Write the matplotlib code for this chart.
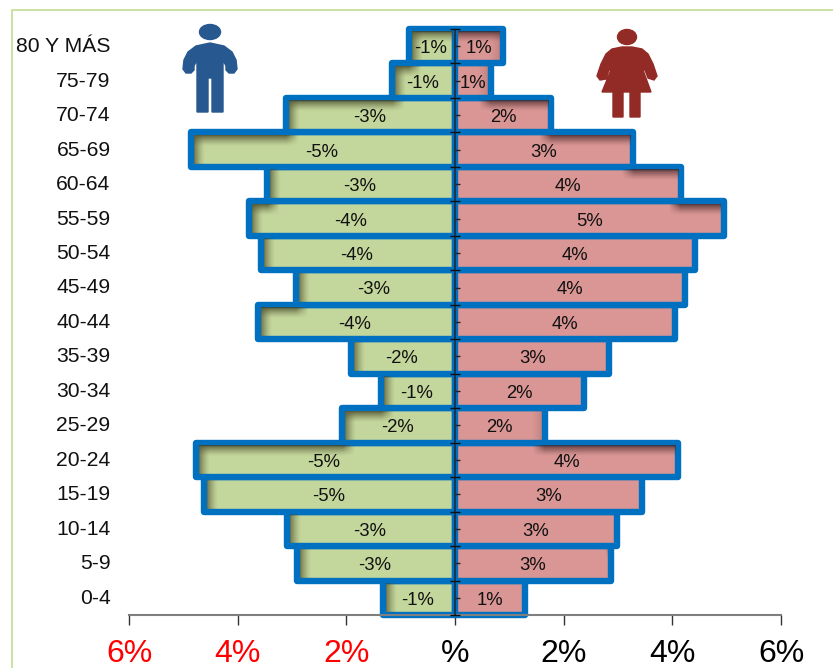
import numpy as np
import matplotlib
matplotlib.use("Agg")
import matplotlib.pyplot as plt
from matplotlib.patches import Polygon, Ellipse

plt.rcParams['font.family'] = ['Liberation Sans', 'DejaVu Sans']

categories = ['0-4', '5-9', '10-14', '15-19', '20-24', '25-29', '30-34', '35-39', '40-44',
              '45-49', '50-54', '55-59', '60-64', '65-69', '70-74', '75-79', '80 Y MÁS']
hombres = [-1.33, -2.91, -3.09, -4.62, -4.77, -2.08, -1.36, -1.92, -3.63,
           -2.93, -3.57, -3.80, -3.46, -4.86, -3.11, -1.16, -0.85]
mujeres = [1.29, 2.87, 2.98, 3.44, 4.11, 1.65, 2.38, 2.84, 4.05,
           4.24, 4.42, 4.95, 4.16, 3.28, 1.77, 0.66, 0.88]
etiq_h = ['-1%', '-3%', '-3%', '-5%', '-5%', '-2%', '-1%', '-2%', '-4%',
          '-3%', '-4%', '-4%', '-3%', '-5%', '-3%', '-1%', '-1%']
etiq_m = ['1%', '3%', '3%', '3%', '4%', '2%', '2%', '3%', '4%',
          '4%', '4%', '5%', '4%', '3%', '2%', '1%', '1%']
xticks = [-6, -4, -2, 0, 2, 4, 6]
xticklabels = ['6%', '4%', '2%', '%', '2%', '4%', '6%']
xcolors = ['red', 'red', 'red', 'black', 'black', 'black', 'black']

W, H = 833, 668
fig = plt.figure(figsize=(W / 100, H / 100), dpi=100)
fig.patch.set_facecolor('white')

# green frame
fig.add_artist(plt.Line2D([11.5 / W, 11.5 / W, 1], [0, 1 - 9.5 / H, 1 - 9.5 / H],
                          color='#C5E09B', lw=1.3, transform=fig.transFigure))

L, R, T, B = 129, 781, 29, 615
ax = fig.add_axes([L / W, 1 - B / H, (R - L) / W, (B - T) / H])
ax.patch.set_alpha(0)

y = np.arange(len(categories))
blue = '#0070C0'
bars_h = ax.barh(y, hombres, height=1.0, color='#C3D69B', edgecolor=blue, linewidth=4.6, zorder=2, joinstyle='round')
bars_m = ax.barh(y, mujeres, height=1.0, color='#D99694', edgecolor=blue, linewidth=4.6, zorder=2, joinstyle='round')
for b in list(bars_h) + list(bars_m):
    b.set_clip_on(False)

# soft inner shadows, derived from each bar and the bar above it
px_x = (R - L) / 12
px_y = (B - T) / 17
inset = 3


def shadow(length, upper, side_edge, rgb, strength):
    """RGBA image of the interior of a bar, 0 = centre line end, pixel resolution."""
    nx = max(int(abs(length) * px_x) - 2 * inset, 2)
    ny = int(px_y) - 2 * inset
    xx = np.arange(nx)[None, :] + 0.5          # distance from the outer end
    yy = np.arange(ny)[:, None] + 0.5          # distance from the top
    over = (abs(length) - abs(upper)) * px_x - inset   # overhang past the upper bar
    a_top = np.clip(1 - yy / 11, 0, 1) ** 1.4 * np.clip(1 - (xx - over) / 12, 0, 1)
    a_side = side_edge * np.clip(1 - xx / 11, 0, 1) ** 1.4 * np.ones_like(yy) * 0.8
    alpha = 1 - (1 - a_top) * (1 - a_side)
    img = np.zeros((ny, nx, 4))
    img[..., :3] = rgb
    img[..., 3] = strength * alpha
    return img


for i, (vh, vm) in enumerate(zip(hombres, mujeres)):
    up_h = hombres[i + 1] if i + 1 < len(hombres) else 0
    up_m = mujeres[i + 1] if i + 1 < len(mujeres) else 0
    dx, dy = inset / px_x, inset / px_y
    img = shadow(vh, up_h, 1.0, (0.28, 0.28, 0.16), 0.85)
    ax.imshow(img, extent=(vh + dx, -dx, i - 0.5 + dy, i + 0.5 - dy), aspect='auto',
              origin='upper', zorder=2.1, interpolation='bilinear')
    img = shadow(vm, up_m, 0.25 if i >= 15 or i == 5 else 0.0, (0.28, 0.16, 0.16), 0.85)[:, ::-1]
    ax.imshow(img, extent=(dx, vm - dx, i - 0.5 + dy, i + 0.5 - dy), aspect='auto',
              origin='upper', zorder=2.1, interpolation='bilinear')
ax.set_xlim(-6, 6)
ax.set_ylim(-0.5, 16.5)

for yi, v, s in zip(y, hombres, etiq_h):
    ax.text(v / 2 - 0.025, yi - 0.07, s, ha='center', va='center', fontsize=13.3, color='#111111', zorder=4)
for yi, v, s in zip(y, mujeres, etiq_m):
    ax.text(v / 2, yi - 0.07, s, ha='center', va='center', fontsize=13.3, color='#111111', zorder=4)

for side in ['top', 'right', 'left']:
    ax.spines[side].set_visible(False)
ax.spines['bottom'].set_color('#7F7F7F')
ax.spines['bottom'].set_linewidth(1.5)
ax.spines['bottom'].set_zorder(3)
ax.set_xticks(xticks)
ax.set_xticklabels(xticklabels, fontsize=23)
for lab, c in zip(ax.get_xticklabels(), xcolors):
    lab.set_color(c)
ax.tick_params(axis='x', length=7.2, width=1, color='#333333', pad=10)

# category labels
ax.set_yticks([])
for yi, s in zip(y, categories):
    ax.annotate(s, xy=(0, yi), xycoords=('figure fraction', 'data'), xytext=(110.5 * 0.72, -0.3),
                textcoords='offset points', ha='right', va='center', fontsize=15.2, color='#111111')

# central axis with ticks
ax.axvline(0, color='#1A3552', lw=1.5, zorder=5)
ax.hlines(y, 0, 0.1, color='#222222', lw=1, zorder=5)
ax.hlines(np.append(y - 0.5, y[-1] + 0.5), -0.1, 0.1, color='#111111', lw=1, zorder=5, clip_on=False)

# pictograms (pixel coordinates)
pix = fig.add_axes([0, 0, 1, 1], zorder=10)
pix.set_xlim(0, W)
pix.set_ylim(H, 0)
pix.axis('off')
man = '#27588F'
pix.add_patch(Ellipse((210, 32), 21, 15, color=man))
pix.add_patch(Polygon([(197, 112), (197, 60), (194, 66), (194, 70), (191, 73), (186, 73), (183, 69), (184, 60),
                       (188, 52), (196, 46), (210, 43), (224, 46), (232, 52), (236, 60), (237, 69), (234, 73),
                       (229, 73), (226, 70), (226, 66), (223, 60), (223, 112), (212, 112), (212, 78), (208, 78),
                       (208, 112)], closed=True, color=man))
wom = '#922B26'
pix.add_patch(Ellipse((627, 37), 19, 15, color=wom))
pix.add_patch(Polygon([(613, 117), (613, 92), (602, 92), (611, 70), (609, 70), (606, 79), (600, 80), (597, 76),
                       (601, 64), (606, 54), (612, 49), (622, 47), (632, 47), (642, 49), (648, 54), (653, 64),
                       (657, 76), (654, 80), (648, 78), (645, 70), (643, 70), (651, 92), (640, 92), (640, 117),
                       (630, 117), (630, 92), (623, 92), (623, 117)], closed=True, color=wom))

fig.savefig('out.png', dpi=100)
